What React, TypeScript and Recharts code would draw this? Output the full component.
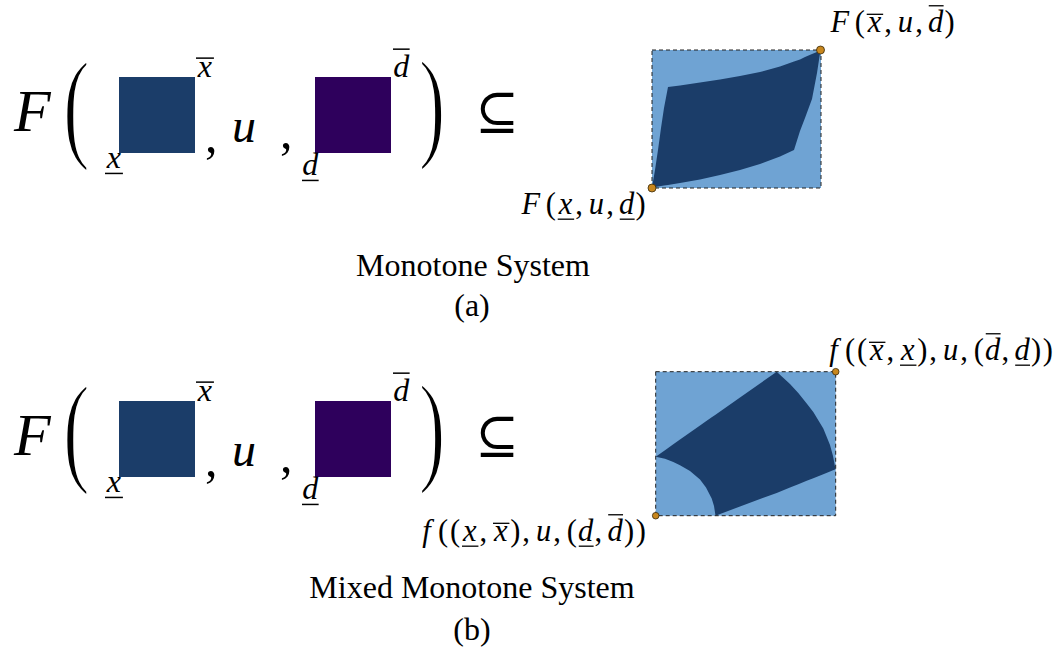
import React from 'react';
import { ComposedChart, XAxis, YAxis, Area, Scatter, ReferenceArea } from 'recharts';

const W = 1064;
const H = 655;

// ---- data (drawing units = picture pixels) ----
const xSetBoxes = [
  { x1: 119, x2: 195, y1: 77, y2: 153 },
  { x1: 119, x2: 195, y1: 401, y2: 477 },
];
const dSetBoxes = [
  { x1: 315, x2: 391, y1: 77, y2: 153 },
  { x1: 315, x2: 391, y1: 401, y2: 477 },
];
const hullBoxes = [
  { x1: 652, x2: 821, y1: 50, y2: 188 },
  { x1: 655.7, x2: 835.7, y1: 371.7, y2: 515.7 },
];

// reachable set, monotone system: x -> [lower edge, upper edge]
const monoReach = [
  { x: 652, range: [187.5, 187.5] },
  { x: 655, range: [187, 170] },
  { x: 658, range: [186.5, 150] },
  { x: 661, range: [186, 128] },
  { x: 664, range: [185.5, 108] },
  { x: 668, range: [185, 87] },
  { x: 680, range: [183, 85.5] },
  { x: 700, range: [179.5, 82.5] },
  { x: 720, range: [175, 79.5] },
  { x: 740, range: [170, 76] },
  { x: 760, range: [164, 72] },
  { x: 780, range: [156.5, 66.5] },
  { x: 794, range: [150, 61.5] },
  { x: 800, range: [131, 59.5] },
  { x: 805, range: [118, 57] },
  { x: 812, range: [99, 54] },
  { x: 817, range: [73, 52] },
  { x: 820.5, range: [50, 50] },
];

// reachable set, mixed monotone system
const mixedReach = [
  { x: 655.7, range: [456.7, 456.7] },
  { x: 665, range: [458.8, 450.2] },
  { x: 673.3, range: [462, 444.3] },
  { x: 680, range: [465.2, 439.6] },
  { x: 690, range: [471, 432.6] },
  { x: 700, range: [479.5, 425.6] },
  { x: 706, range: [487.5, 421.3] },
  { x: 711.7, range: [498.5, 417.3] },
  { x: 714, range: [506, 415.7] },
  { x: 715.5, range: [515.7, 414.7] },
  { x: 740, range: [506.5, 397.5] },
  { x: 760, range: [499, 383.5] },
  { x: 776.7, range: [493, 371.7] },
  { x: 790, range: [487.5, 384] },
  { x: 798.3, range: [484.2, 393] },
  { x: 806.7, range: [480.8, 403.5] },
  { x: 813.3, range: [478.2, 412] },
  { x: 823.3, range: [474.2, 428.5] },
  { x: 830, range: [471.4, 445] },
  { x: 833, range: [470.2, 456] },
  { x: 835.5, range: [469.3, 469.3] },
];

const monoCorners = [
  { x: 652, y: 188 },
  { x: 820.5, y: 50 },
];
const mixedCorners = [
  { x: 655.7, y: 515.7 },
  { x: 835.7, y: 371.7 },
];

// corner labels: tokens, '^' = overline, '_' = underline
const cornerLabels = [
  { x: 830, y: 32, tokens: ['F', '(', 'x^', ',', 'u', ',', 'd^', ')'] },
  { x: 521, y: 214, tokens: ['F', '(', 'x_', ',', 'u', ',', 'd_', ')'] },
  { x: 826, y: 360, tokens: ['f', '(', '(', 'x^', ',', 'x_', ')', ',', 'u', ',', '(', 'd^', ',', 'd_', ')', ')'] },
  { x: 419, y: 541, tokens: ['f', '(', '(', 'x_', ',', 'x^', ')', ',', 'u', ',', '(', 'd_', ',', 'd^', ')', ')'] },
];

// left-hand formula pieces
const formulaA = [
  { x: 14, y: 131, t: 'F', k: 'F' },
  { x: 63, y: 146, t: '(', k: 'paren' },
  { x: 196, y: 77, t: 'x^', k: 'script' },
  { x: 105, y: 168, t: 'x_', k: 'script' },
  { x: 205, y: 152, t: ',', k: 'punct' },
  { x: 232, y: 142, t: 'u', k: 'u' },
  { x: 280, y: 148, t: ',', k: 'punct' },
  { x: 302, y: 175, t: 'd_', k: 'script' },
  { x: 393, y: 77, t: 'd^', k: 'script' },
  { x: 418.7, y: 145, t: ')', k: 'paren' },
  { x: 497, y: 129, t: '⊆', k: 'subset' },
];
const formulaB = [
  { x: 14, y: 455, t: 'F', k: 'F' },
  { x: 63, y: 470, t: '(', k: 'paren' },
  { x: 196, y: 401, t: 'x^', k: 'script' },
  { x: 105, y: 492, t: 'x_', k: 'script' },
  { x: 205, y: 476, t: ',', k: 'punct' },
  { x: 232, y: 466, t: 'u', k: 'u' },
  { x: 280, y: 472, t: ',', k: 'punct' },
  { x: 302, y: 499, t: 'd_', k: 'script' },
  { x: 393, y: 401, t: 'd^', k: 'script' },
  { x: 418.7, y: 469, t: ')', k: 'paren' },
  { x: 497, y: 453, t: '⊆', k: 'subset' },
];

const captions = [
  { x: 473, y: 276, t: 'Monotone System' },
  { x: 472, y: 316, t: '(a)' },
  { x: 472, y: 598, t: 'Mixed Monotone System' },
  { x: 472, y: 640, t: '(b)' },
];

// ---- styles ----
const SERIF = "'Liberation Serif', 'Times New Roman', serif";
const C_X = '#1b3d69';
const C_D = '#2e005c';
const C_HULL = '#6fa3d3';
const C_DOT = '#c8871e';

// Computer-Modern-like advance widths (em)
const ADV: Record<string, number> = { F: 0.782, f: 0.598, '(': 0.389, ')': 0.389, ',': 0.445, x: 0.572, u: 0.572, d: 0.52 };
const BOX: Record<string, number> = { F: 0.643, f: 0.49, x: 0.572, u: 0.572, d: 0.52 };

function CornerLabelShape(props: any) {
  const { cx, cy, payload } = props;
  const fs = 30.5;
  let pos = cx;
  const els: any[] = [];
  payload.tokens.forEach((tok: string, i: number) => {
    const ch = tok[0];
    const bar = tok[1];
    const adv = ADV[ch] * fs;
    if (ch === ',') {
      els.push(<text key={i} x={pos + 1} y={cy} fontFamily={SERIF} fontSize={fs} fill="#000">,</text>);
    } else if (ch === '(' || ch === ')') {
      els.push(<text key={i} x={pos + adv / 2} y={cy} textAnchor="middle" fontFamily={SERIF} fontSize={fs} fill="#000">{ch}</text>);
    } else {
      const bw = BOX[ch] * fs;
      els.push(<text key={i} x={pos + bw / 2} y={cy} textAnchor="middle" fontFamily={SERIF} fontStyle="italic" fontSize={fs} fill="#000">{ch}</text>);
      if (bar) {
        const yb = bar === '^' ? cy - (ch === 'd' ? 0.86 : 0.58) * fs : cy + 0.17 * fs;
        els.push(<line key={'b' + i} x1={pos + 1} x2={pos + bw} y1={yb} y2={yb} stroke="#000" strokeWidth={1.3} />);
      }
    }
    pos += adv;
  });
  return <g>{els}</g>;
}

function FormulaShape(props: any) {
  const { cx, cy, payload } = props;
  const { t, k } = payload;
  if (k === 'F') {
    return <text x={cx} y={cy} fontFamily={SERIF} fontStyle="italic" fontSize={60} fill="#000">{t}</text>;
  }
  if (k === 'u') {
    return <text x={cx} y={cy} fontFamily={SERIF} fontStyle="italic" fontSize={48} fill="#000">{t}</text>;
  }
  if (k === 'punct') {
    return <text x={cx} y={cy} fontFamily={SERIF} fontSize={50} fill="#000">{t}</text>;
  }
  if (k === 'paren') {
    return (
      <text transform={`translate(${cx},${cy}) scale(0.8,1.23)`} x={0} y={0} fontFamily={SERIF} fontSize={100} fill="#000" stroke="#fff" strokeWidth={2}>{t}</text>
    );
  }
  if (k === 'subset') {
    return <text x={cx} y={cy} textAnchor="middle" fontFamily="'DejaVu Serif', serif" fontSize={52} fill="#000">{t}</text>;
  }
  // script with bar
  const fs = 32;
  const ch = t[0];
  const bar = t[1];
  const bw = (ch === 'd' ? 0.52 : 0.56) * fs;
  const yb = bar === '^' ? cy - (ch === 'd' ? 0.87 : 0.59) * fs : cy + 0.17 * fs;
  return (
    <g>
      <text x={cx + bw / 2} y={cy} textAnchor="middle" fontFamily={SERIF} fontStyle="italic" fontSize={fs} fill="#000">{ch}</text>
      <line x1={cx} x2={cx + bw} y1={yb} y2={yb} stroke="#000" strokeWidth={1.5} />
    </g>
  );
}

function CaptionShape(props: any) {
  const { cx, cy, payload } = props;
  return <text x={cx} y={cy} textAnchor="middle" fontFamily={SERIF} fontSize={32} fill="#000">{payload.t}</text>;
}

function dotShape(r: number) {
  return (props: any) => <circle cx={props.cx} cy={props.cy} r={r} fill={C_DOT} stroke="#3a2a0a" strokeWidth={0.8} />;
}

export default function App() {
  return (
    <div style={{ position: 'absolute', left: 0, top: 0, width: W, height: H, background: '#fff' }}>
      <ComposedChart width={W} height={H} margin={{ top: 0, right: 0, bottom: 0, left: 0 }}>
        <XAxis type="number" dataKey="x" domain={[0, W]} hide allowDataOverflow />
        <YAxis type="number" dataKey="y" domain={[0, H]} reversed hide allowDataOverflow />
        {xSetBoxes.map((b, i) => (
          <ReferenceArea key={'xs' + i} x1={b.x1} x2={b.x2} y1={b.y1} y2={b.y2} fill={C_X} fillOpacity={1} stroke="none" ifOverflow="visible" />
        ))}
        {dSetBoxes.map((b, i) => (
          <ReferenceArea key={'ds' + i} x1={b.x1} x2={b.x2} y1={b.y1} y2={b.y2} fill={C_D} fillOpacity={1} stroke="none" ifOverflow="visible" />
        ))}
        {hullBoxes.map((b, i) => (
          <ReferenceArea key={'hb' + i} x1={b.x1} x2={b.x2} y1={b.y1} y2={b.y2} fill={C_HULL} fillOpacity={1} stroke="none" ifOverflow="visible" />
        ))}
        <Area data={monoReach} dataKey="range" type="linear" fill={C_X} fillOpacity={1} stroke="none" dot={false} activeDot={false} isAnimationActive={false} />
        <Area data={mixedReach} dataKey="range" type="linear" fill={C_X} fillOpacity={1} stroke="none" dot={false} activeDot={false} isAnimationActive={false} />
        {hullBoxes.map((b, i) => (
          <ReferenceArea key={'ho' + i} x1={b.x1} x2={b.x2} y1={b.y1} y2={b.y2} fill="none" stroke="#222" strokeWidth={1} strokeDasharray="4 3" ifOverflow="visible" />
        ))}
        <Scatter data={monoCorners} dataKey="y" shape={dotShape(4)} isAnimationActive={false} />
        <Scatter data={mixedCorners} dataKey="y" shape={dotShape(3.3)} isAnimationActive={false} />
        <Scatter data={cornerLabels} dataKey="y" shape={CornerLabelShape} isAnimationActive={false} />
        <Scatter data={formulaA} dataKey="y" shape={FormulaShape} isAnimationActive={false} />
        <Scatter data={formulaB} dataKey="y" shape={FormulaShape} isAnimationActive={false} />
        <Scatter data={captions} dataKey="y" shape={CaptionShape} isAnimationActive={false} />
      </ComposedChart>
    </div>
  );
}
